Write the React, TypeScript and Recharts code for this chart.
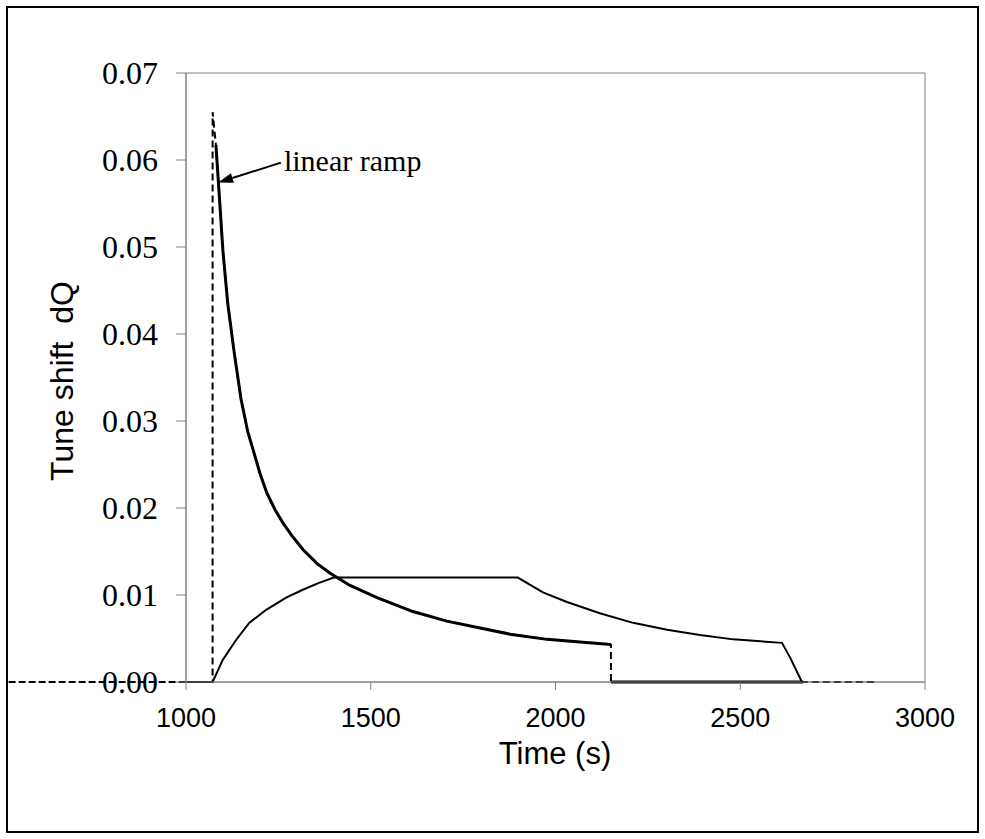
import React from 'react';
import { LineChart, Line, XAxis, YAxis, ReferenceArea, ReferenceLine, Label } from 'recharts';

// ---- tick labels ----
const xTicks = [1000, 1500, 2000, 2500, 3000];
const yTicks = [0, 0.01, 0.02, 0.03, 0.04, 0.05, 0.06, 0.07];

// ---- series 1: instant step (dashed) ----
const stepT = [1000, 1072, 1072, 1081, 1090, 1100, 1113, 1130, 1149, 1167, 1187, 1200, 1219, 1241, 1262, 1287, 1317, 1355, 1390, 1444, 1517, 1614, 1706, 1796, 1877, 1977, 2066, 2150, 2150, 2865];
const stepQ = [0, 0, 0.0655, 0.0617, 0.056, 0.0495, 0.0435, 0.038, 0.0325, 0.0288, 0.0259, 0.024, 0.0217, 0.0198, 0.0183, 0.0168, 0.0152, 0.0136, 0.0125, 0.0111, 0.0097, 0.0081, 0.007, 0.0062, 0.0055, 0.0049, 0.0046, 0.0043, 0, 0];
const stepLeadT = [520, 1000];

// ---- series 2: linear ramp (thick solid) ----
const rampT = [1081, 1090, 1100, 1113, 1130, 1149, 1167, 1187, 1200, 1219, 1241, 1262, 1287, 1317, 1355, 1390, 1444, 1517, 1614, 1706, 1796, 1877, 1977, 2066, 2150, 2150, 2150, 2670];
const rampQ: (number | null)[] = [0.0617, 0.056, 0.0495, 0.0435, 0.038, 0.0325, 0.0288, 0.0259, 0.024, 0.0217, 0.0198, 0.0183, 0.0168, 0.0152, 0.0136, 0.0125, 0.0111, 0.0097, 0.0081, 0.007, 0.0062, 0.0055, 0.0049, 0.0046, 0.0043, null, 0, 0];

// ---- series 3: slow ramp, flat top, decay (thin solid) ----
const slowT = [1000, 1072, 1099, 1135, 1171, 1217, 1271, 1316, 1360, 1400, 1898, 1966, 2031, 2120, 2210, 2302, 2391, 2481, 2613, 2635, 2667];
const slowQ = [0, 0, 0.0025, 0.0048, 0.0068, 0.0083, 0.0097, 0.0106, 0.0114, 0.012, 0.012, 0.0103, 0.0092, 0.0079, 0.0068, 0.006, 0.0054, 0.0049, 0.0045, 0.0028, 0];

// ---- annotation ----
const annotationText = 'linear ramp';
const arrowFrom = { x: 1257, y: 0.0597 };
const arrowTo = { x: 1087, y: 0.0574 };

const zip = (t: number[], q: (number | null)[]) => t.map((v, i) => ({ t: v, q: q[i] }));
const stepData = zip(stepT, stepQ);
const rampData = zip(rampT, rampQ);
const slowData = zip(slowT, slowQ);

const SANS = '"Liberation Sans", Arial, sans-serif';
const SERIF = '"Liberation Serif", "Times New Roman", serif';

const ArrowShape = (p: any) => {
  const { x1, y1, x2, y2 } = p;
  const ang = Math.atan2(y2 - y1, x2 - x1);
  const L = 15;
  const W = 5;
  const bx = x2 - L * Math.cos(ang);
  const by = y2 - L * Math.sin(ang);
  const px = -Math.sin(ang) * W;
  const py = Math.cos(ang) * W;
  return (
    <g>
      <line x1={x1} y1={y1} x2={bx} y2={by} stroke="#000" strokeWidth={2} />
      <polygon points={`${x2},${y2} ${bx + px},${by + py} ${bx - px},${by - py}`} fill="#000" />
      <text x={x1 + 3} y={y1 + 8} fontFamily={SERIF} fontSize={30} fill="#000">{annotationText}</text>
    </g>
  );
};

export default function App() {
  return (
    <div style={{ position: 'absolute', left: 0, top: 0, width: 985, height: 839, background: '#fff' }}>
      <div style={{ position: 'absolute', left: 6, top: 6, width: 973, height: 827, border: '2px solid #000', boxSizing: 'border-box' }} />
      <div style={{ position: 'absolute', left: 0, top: 0 }}>
        <LineChart width={985} height={839} margin={{ top: 73, right: 60, bottom: 0, left: 0 }}>
          <XAxis
            type="number"
            dataKey="t"
            domain={[1000, 3000]}
            ticks={xTicks}
            interval={0}
            height={157}
            tickSize={8}
            tickMargin={18}
            stroke="#808080"
            tick={{ fill: '#000', fontSize: 27, fontFamily: SANS }}
          >
            <Label
              content={() => (
                <text x={555} y={764} textAnchor="middle" fontFamily={SANS} fontSize={31} fill="#000">Time (s)</text>
              )}
            />
          </XAxis>
          <YAxis
            type="number"
            domain={[0, 0.07]}
            ticks={yTicks}
            interval={0}
            width={186}
            tickSize={10}
            tickMargin={18}
            stroke="#808080"
            tickFormatter={(v: number) => v.toFixed(2)}
            tick={{ fill: '#000', fontSize: 32, fontFamily: SERIF }}
          >
            <Label
              content={() => (
                <text
                  x={0}
                  y={0}
                  transform="translate(73,381) rotate(-90)"
                  textAnchor="middle"
                  fontFamily={SANS}
                  fontSize={32}
                  fill="#000"
                  style={{ whiteSpace: 'pre' }}
                >
                  {'Tune shift  dQ'}
                </text>
              )}
            />
          </YAxis>
          <ReferenceArea x1={1000} x2={3000} y1={0} y2={0.07} fill="none" stroke="#808080" strokeWidth={1} ifOverflow="visible" />
          <ReferenceLine
            segment={[{ x: stepLeadT[0], y: 0 }, { x: stepLeadT[1], y: 0 }]}
            stroke="#000"
            strokeWidth={2}
            strokeDasharray="7 3"
            ifOverflow="visible"
          />
          <Line data={slowData} dataKey="q" type="linear" stroke="#000" strokeWidth={2} dot={false} activeDot={false} isAnimationActive={false} />
          <Line data={stepData} dataKey="q" type="linear" stroke="#000" strokeWidth={2} strokeDasharray="7 4" dot={false} activeDot={false} isAnimationActive={false} />
          <Line data={rampData} dataKey="q" type="linear" stroke="#000" strokeWidth={3} dot={false} activeDot={false} isAnimationActive={false} connectNulls={false} />
          <ReferenceLine
            segment={[arrowFrom, arrowTo]}
            ifOverflow="visible"
            shape={ArrowShape}
          />
        </LineChart>
      </div>
    </div>
  );
}
